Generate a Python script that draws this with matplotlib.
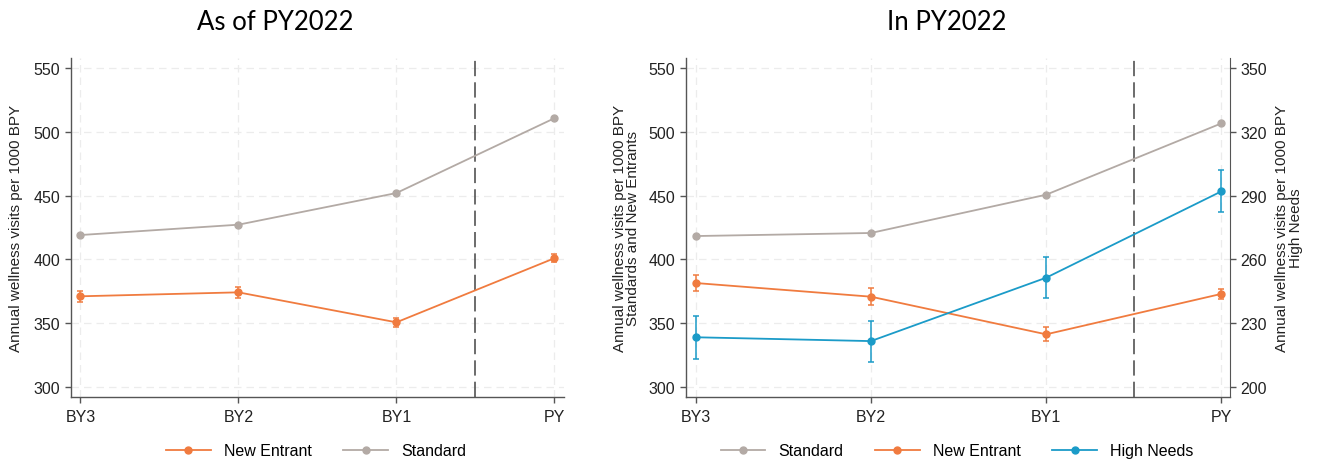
import matplotlib
matplotlib.use("Agg")
import matplotlib.pyplot as plt
from matplotlib.lines import Line2D
import numpy as np

periods = ["BY3", "BY2", "BY1", "PY"]

# Left panel: As of PY2022
left_standard = [419.1, 427.2, 452.0, 510.6]
left_new_entrant = [371.1, 374.2, 350.7, 400.9]
left_new_entrant_err = [4.3, 4.2, 3.3, 3.0]

# Right panel: In PY2022
right_standard = [418.3, 420.7, 450.7, 506.6]
right_new_entrant = [381.5, 370.8, 341.3, 373.0]
right_new_entrant_err = [6.5, 6.5, 5.4, 3.9]
right_high_needs = [223.4, 221.6, 251.4, 292.0]
right_high_needs_err = [10.2, 9.6, 9.5, 9.9]

left_yticks = [300, 350, 400, 450, 500, 550]
right_yticks2 = [200, 230, 260, 290, 320, 350]

GRAY = "#b3aaa5"
ORANGE = "#f07b3f"
BLUE = "#1b9bc8"
AXC = "#555555"

plt.rcParams['font.family'] = ['Liberation Sans', 'DejaVu Sans']

W, H = 1319, 464
fig = plt.figure(figsize=(W / 100, H / 100), dpi=100)
axL = fig.add_axes([70.8 / W, (H - 398) / H, 493.2 / W, 339 / H])
axR = fig.add_axes([685.5 / W, (H - 398) / H, 544.5 / W, 339 / H])

x = np.arange(len(periods))

def style(ax, xl):
    ax.set_xlim(*xl)
    ax.set_ylim(292.2, 557.8)
    ax.set_yticks(left_yticks)
    ax.set_xticks(x)
    ax.set_xticklabels(periods)
    ax.grid(True, color="#ececec", linestyle=(0, (6, 4)), linewidth=0.9)
    ax.set_axisbelow(True)
    for s in ["top", "right"]:
        ax.spines[s].set_visible(False)
    for s in ["left", "bottom"]:
        ax.spines[s].set_color(AXC)
        ax.spines[s].set_linewidth(1.0)
    ax.tick_params(axis="both", colors=AXC, labelcolor="#222222", labelsize=11.5, length=4, width=1.0)
    ax.tick_params(axis="x", pad=5)
    ax.axvline(2.5, color="#444444", linestyle=(0, (10, 4)), linewidth=1.1, zorder=1)

ekw = dict(capsize=2.5, elinewidth=1.1, capthick=1.1, marker="o", markersize=5, linewidth=1.3)

def handle(c):
    return Line2D([0], [0], color=c, marker="o", markersize=5, linewidth=1.3)

# Left
style(axL, (-0.061, 3.061))
axL.errorbar(x, left_new_entrant, yerr=left_new_entrant_err, color=ORANGE, **ekw)
axL.plot(x, left_standard, color=GRAY, marker="o", markersize=5, linewidth=1.3)
axL.set_ylabel("Annual wellness visits per 1000 BPY", fontsize=11, color="#222222", labelpad=8)
fig.text(275 / W, 1 - 22 / H, "As of PY2022", ha="center", va="center", fontsize=18.5, family=["Lato", "DejaVu Sans"])
fig.legend([handle(ORANGE), handle(GRAY)], ["New Entrant", "Standard"], loc="center", bbox_to_anchor=(316 / W, 1 - 452 / H),
           ncol=2, frameon=False, fontsize=11.5, handlelength=2.8, columnspacing=2.0, handletextpad=0.8)

# Right
style(axR, (-0.058, 3.049))
axR2 = axR.twinx()
axR2.set_ylim(200 + 0.6 * (292.2 - 300), 200 + 0.6 * (557.8 - 300))
axR2.set_yticks(right_yticks2)
for s in ["top", "left", "bottom"]:
    axR2.spines[s].set_visible(False)
axR2.spines["right"].set_color(AXC)
axR2.tick_params(axis="y", colors=AXC, labelcolor="#222222", labelsize=11.5, length=4, width=1.0)

axR.plot(x, right_standard, color=GRAY, marker="o", markersize=5, linewidth=1.3)
axR.errorbar(x, right_new_entrant, yerr=right_new_entrant_err, color=ORANGE, **ekw)
axR2.errorbar(x, right_high_needs, yerr=right_high_needs_err, color=BLUE, **ekw)
axR.set_ylabel("Annual wellness visits per 1000 BPY\nStandards and New Entrants", fontsize=11, color="#222222",
               linespacing=0.95, labelpad=6)
axR2.set_ylabel("Annual wellness visits per 1000 BPY\nHigh Needs", fontsize=11, color="#222222",
                linespacing=0.95, labelpad=6)
fig.text(947 / W, 1 - 22 / H, "In PY2022", ha="center", va="center", fontsize=18.5, family=["Lato", "DejaVu Sans"])
fig.legend([handle(GRAY), handle(ORANGE), handle(BLUE)], ["Standard", "New Entrant", "High Needs"], loc="center",
           bbox_to_anchor=(957 / W, 1 - 452 / H), ncol=3, frameon=False, fontsize=11.5, handlelength=2.8,
           columnspacing=2.0, handletextpad=0.8)

fig.savefig("out.png", dpi=100)
